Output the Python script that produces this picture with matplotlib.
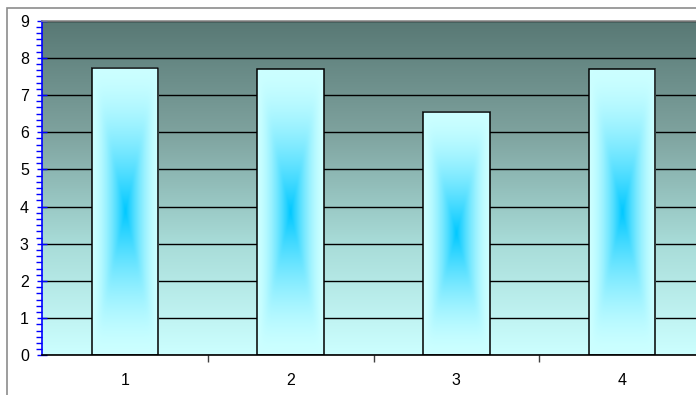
import numpy as np
import matplotlib.pyplot as plt
from matplotlib.colors import LinearSegmentedColormap, to_rgb
from matplotlib.patches import Rectangle
from matplotlib.ticker import MultipleLocator, FixedLocator, NullFormatter

plt.rcParams['font.family'] = ['Liberation Sans', 'DejaVu Sans']

categories = ['1', '2', '3', '4']
values = [7.72, 7.69, 6.55, 7.69]

W, H = 696, 395
fig = plt.figure(figsize=(W / 100, H / 100), dpi=100)

# outer chart frame (runs off the right and bottom edge)
fig.patches.append(Rectangle((7 / W, -0.1), 1.2, 1.1 - 8 / H, transform=fig.transFigure,
                             fill=False, edgecolor='#8c8c8c', lw=1.2))

ax = fig.add_axes([42 / W, 39.7 / H, 663 / W, 334.6 / H])
x = np.arange(len(categories))
ax.set_xlim(-0.5, len(categories) - 0.5)
ax.set_ylim(0, 9)

# plot area: vertical gradient dark slate -> pale cyan
bg = LinearSegmentedColormap.from_list('bg', ['#ccffff', '#a8dcd8', '#7ea29e', '#587874'])
grad = np.linspace(0, 1, 256).reshape(-1, 1)
ax.imshow(grad, cmap=bg, origin='lower', aspect='auto', extent=(-0.5, len(categories) - 0.5, 0, 9),
          zorder=0, interpolation='bilinear')

bars = ax.bar(x, values, width=0.4, facecolor='none', edgecolor='black', lw=1.1, zorder=3)

# bar fill: rectangular "from centre" gradient, blue in the middle
# (a high p-norm instead of max() takes the edge off the diagonal ridges)
light = np.array(to_rgb('#ccffff'))
blue = np.array(to_rgb('#00c8ff'))
ny, nx = 400, 80
yy, xx = np.mgrid[-1:1:ny * 1j, -1:1:nx * 1j]
t = np.clip((np.abs(xx) ** 12 + np.abs(yy) ** 12) ** (1 / 12), 0, 1)
s = (1 - t) ** 1.6
img = light[None, None, :] + (blue - light)[None, None, :] * s[..., None]
for b in bars:
    x0, w, h = b.get_x(), b.get_width(), b.get_height()
    ax.imshow(img, origin='lower', aspect='auto', extent=(x0, x0 + w, 0, h),
              zorder=2, interpolation='bilinear')

ax.set_xlim(-0.5, len(categories) - 0.5)
ax.set_ylim(0, 9)

ax.set_axisbelow(True)
ax.yaxis.grid(True, color='black', lw=1)
ax.yaxis.set_major_locator(MultipleLocator(1))
ax.yaxis.set_minor_locator(MultipleLocator(1 / 6))
ax.tick_params(axis='y', which='major', colors='blue', direction='inout', length=7, width=1,
               labelcolor='black', labelsize=11.5, pad=6)
ax.tick_params(axis='y', which='minor', colors='blue', direction='out', length=4, width=1)

ax.xaxis.set_major_locator(FixedLocator(x[:-1] + 0.5))
ax.xaxis.set_major_formatter(NullFormatter())
ax.xaxis.set_minor_locator(FixedLocator(x))
ax.set_xticklabels(categories, minor=True)
ax.tick_params(axis='x', which='major', direction='out', length=5, color='#404040', width=1)
ax.tick_params(axis='x', which='minor', length=0, labelsize=11.5, pad=13)

ax.spines['left'].set_color('blue')
ax.spines['left'].set_linewidth(1.2)
ax.spines['bottom'].set_color('black')
ax.spines['bottom'].set_linewidth(1.2)
ax.spines['top'].set_color('#8c8c8c')
ax.spines['top'].set_linewidth(1.2)
ax.spines['right'].set_visible(False)

fig.savefig('out.png', dpi=100)
